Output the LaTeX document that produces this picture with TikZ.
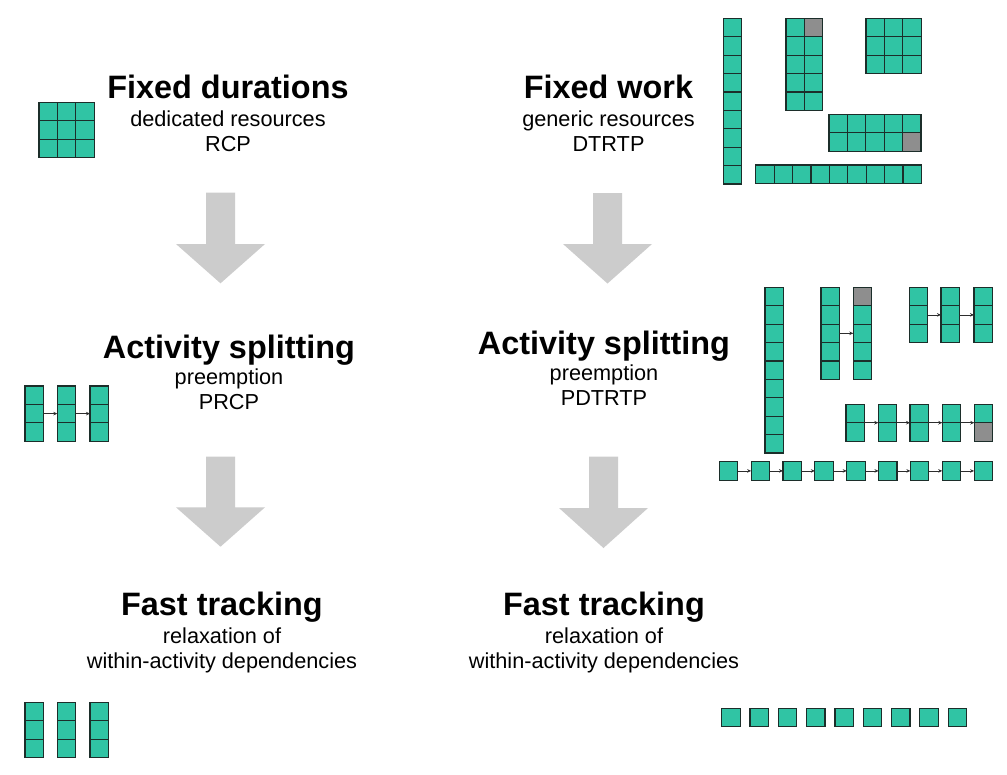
\documentclass[tikz,border=0pt]{standalone}
\usepackage{fontspec}
\setmainfont{Liberation Sans}
\usetikzlibrary{arrows.meta}
\definecolor{teal1}{RGB}{48,196,164}
\definecolor{edge1}{RGB}{28,46,42}
\definecolor{gray1}{RGB}{142,142,142}
\definecolor{bigarrow}{RGB}{204,204,204}
\definecolor{smallarrow}{RGB}{45,45,45}
\newcommand\cs{18.4}
% name, x-left, y-top, cols, rows
\newcommand\mkblock[5]{%
  \node[blockbox, anchor=north west, minimum width={#4*\cs*1pt}, minimum height={#5*\cs*1pt}] (#1) at (#2,#3) {};
  \ifnum#5>1
    \pgfmathtruncatemacro\nrr{#5-1}%
    \foreach \k in {1,...,\nrr}{\draw[cellline] (#2,{#3+\k*\cs}) -- ++({#4*\cs},0);}%
  \fi
  \ifnum#4>1
    \pgfmathtruncatemacro\ncc{#4-1}%
    \foreach \k in {1,...,\ncc}{\draw[cellline] ({#2+\k*\cs},#3) -- ++(0,{#5*\cs});}%
  \fi
}
\newcommand\graycell[2]{\draw[graybox] (#1,#2) rectangle ++(\cs,\cs);}
% centre x, top y, head y, tip y
\newcommand\bigarr[4]{%
  \fill[bigarrow] ({#1-14.5},#2) -- ({#1+14.5},#2) -- ({#1+14.5},#3) -- ({#1+44.5},#3)
    -- (#1,#4) -- ({#1-44.5},#3) -- ({#1-14.5},#3) -- cycle;}
\begin{document}
\begin{tikzpicture}[x=1pt,y=-1pt,
  blockbox/.style={rectangle, draw=edge1, fill=teal1, line width=1.2pt, inner sep=0pt, outer sep=0pt},
  cellline/.style={draw=edge1, line width=1.2pt},
  graybox/.style={draw=edge1, fill=gray1, line width=1.2pt},
  smallarr/.style={draw=smallarrow, line width=0.8pt, -{Stealth[length=4pt,width=3.5pt]}},
  heading/.style={font=\fontsize{32.4}{38}\selectfont\bfseries, anchor=base, inner sep=0pt},
  subtext/.style={font=\fontsize{21.7}{25}\selectfont, anchor=base, inner sep=0pt}]
\fill[white] (0,0) rectangle (1007,774);
\useasboundingbox (0,0) rectangle (1007,774);

% ---- texts, left column
\node[heading] (h1) at (228,98) {Fixed durations};
\node[subtext] (h1a) at (228,126) {dedicated resources};
\node[subtext] (h1b) at (228,151) {RCP};
\node[heading] (h2) at (229,358) {Activity splitting};
\node[subtext] (h2a) at (229,384) {preemption};
\node[subtext] (h2b) at (229,409) {PRCP};
\node[heading] (h3) at (222,615) {Fast tracking};
\node[subtext] (h3a) at (222,643) {relaxation of};
\node[subtext] (h3b) at (222,668) {within-activity dependencies};
% ---- texts, right column
\node[heading] (r1) at (608.5,98) {Fixed work};
\node[subtext] (r1a) at (608.5,126) {generic resources};
\node[subtext] (r1b) at (608.5,151) {DTRTP};
\node[heading] (r2) at (604,354) {Activity splitting};
\node[subtext] (r2a) at (604,380) {preemption};
\node[subtext] (r2b) at (604,405) {PDTRTP};
\node[heading] (r3) at (604,615) {Fast tracking};
\node[subtext] (r3a) at (604,643) {relaxation of};
\node[subtext] (r3b) at (604,668) {within-activity dependencies};

% ---- big arrows
\bigarr{220.5}{192.7}{244}{283.3}
\bigarr{220.5}{456.7}{507.3}{546.7}
\bigarr{607.5}{193}{244}{283.5}
\bigarr{603.5}{456.7}{508}{548}

% ---- top left
\mkblock{tl}{39}{102.3}{3}{3}
% ---- top right
\mkblock{ta}{723.3}{18.3}{1}{9}
\mkblock{tb}{786}{18.3}{2}{5}
\graycell{804.4}{18.3}
\mkblock{tc}{866}{18.3}{3}{3}
\mkblock{td}{829}{114.3}{5}{2}
\graycell{902.6}{132.7}
\mkblock{te}{755.7}{165}{9}{1}

% ---- middle left
\mkblock{mla}{25}{386}{1}{3}
\mkblock{mlb}{57.3}{386}{1}{3}
\mkblock{mlc}{90}{386}{1}{3}
\draw[smallarr] (mla.east) -- (mlb.west);
\draw[smallarr] (mlb.east) -- (mlc.west);

% ---- middle right
\mkblock{ma}{765}{287.3}{1}{9}
\mkblock{mb}{821}{287.3}{1}{5}
\mkblock{mc}{853.3}{287.3}{1}{5}
\graycell{853.3}{287.3}
\draw[smallarr] (mb.east) -- (mc.west);
\mkblock{md1}{909.3}{287.3}{1}{3}
\mkblock{md2}{941}{287.3}{1}{3}
\mkblock{md3}{974}{287.3}{1}{3}
\draw[smallarr] (md1.east) -- (md2.west);
\draw[smallarr] (md2.east) -- (md3.west);
\mkblock{me1}{846}{404.3}{1}{2}
\mkblock{me2}{878.3}{404.3}{1}{2}
\mkblock{me3}{910}{404.3}{1}{2}
\mkblock{me4}{942.3}{404.3}{1}{2}
\mkblock{me5}{974.3}{404.3}{1}{2}
\graycell{974.3}{422.7}
\foreach \k [evaluate=\k as \j using int(\k+1)] in {1,...,4}{\draw[smallarr] (me\k.east) -- (me\j.west);}
\foreach \k in {0,...,8}{%
  \pgfmathsetmacro\xx{719.3+\k*31.85}%
  \mkblock{mf\k}{\xx}{461.7}{1}{1}}
\foreach \k [evaluate=\k as \j using int(\k+1)] in {0,...,7}{\draw[smallarr] (mf\k.east) -- (mf\j.west);}

% ---- bottom left
\mkblock{bla}{25}{702.3}{1}{3}
\mkblock{blb}{57.3}{702.3}{1}{3}
\mkblock{blc}{90}{702.3}{1}{3}
% ---- bottom right
\foreach \k in {0,...,8}{%
  \pgfmathsetmacro\xx{721.7+\k*28.3}%
  \mkblock{br\k}{\xx}{708.3}{1}{1}}
\end{tikzpicture}
\end{document}
